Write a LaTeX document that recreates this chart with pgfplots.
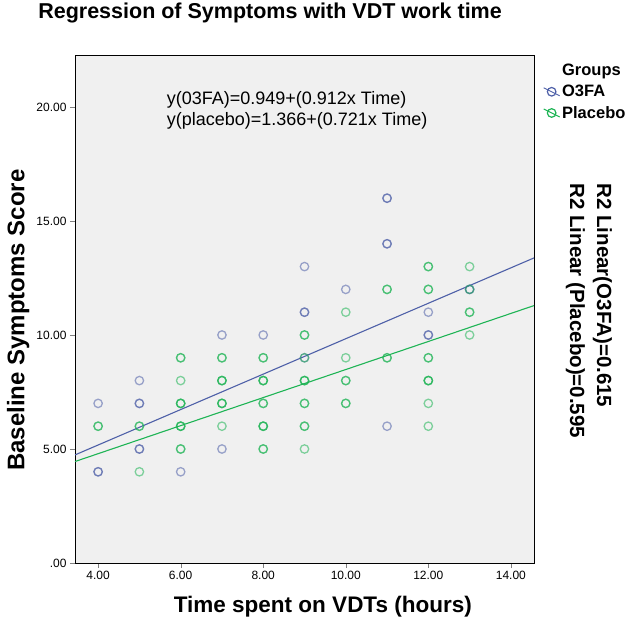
\documentclass[border=0pt]{standalone}
\usepackage{pgfplots}
\pgfplotsset{compat=1.18}
\usepackage{fontspec}
\setmainfont{Liberation Sans}
\definecolor{ofa}{RGB}{78,96,168}
\definecolor{plc}{RGB}{30,180,85}
\definecolor{bgc}{RGB}{240,240,240}

\begin{document}
\begin{tikzpicture}
\useasboundingbox (-75bp,-58bp) rectangle (562bp,563bp);
\begin{axis}[
    at={(0,0)}, anchor=south west,
    scale only axis, width=459bp, height=508bp,
    xmin=3.44, xmax=14.56, ymin=0, ymax=22.28,
    xtick={4,6,...,14}, xticklabels={4.00,6.00,8.00,10.00,12.00,14.00},
    ytick={0,5,10,15,20}, yticklabels={.00,5.00,10.00,15.00,20.00},
    tick align=outside, major tick length=5bp,
    xtick pos=bottom, ytick pos=left,
    ticklabel style={font=\fontsize{12bp}{14bp}\selectfont},
    axis background/.style={fill=bgc},
    axis line style={line width=0.8bp},
    xlabel={Time spent on VDTs (hours)},
    ylabel={Baseline Symptoms Score},
    xlabel style={at={(axis description cs:0.540,-0.085)}, anchor=center,
        font=\fontsize{22.5bp}{26bp}\selectfont\bfseries},
    ylabel style={at={(axis description cs:-0.124,0.478)}, anchor=center,
        font=\fontsize{24bp}{28bp}\selectfont\bfseries},
    title={Regression of Symptoms with VDT work time},
    title style={at={(axis description cs:0.425,1.071)}, anchor=center,
        font=\fontsize{21.5bp}{25bp}\selectfont\bfseries},
    legend style={at={(axis description cs:1.013,0.99)}, anchor=north west,
        draw=none, fill=none, row sep=4bp,
        font=\fontsize{16.5bp}{19bp}\selectfont\bfseries},
    legend cell align=left,
]
\addlegendimage{empty legend}
\addlegendentry{Groups}
\addlegendimage{legend image code/.code={
    \draw[ofa, line width=1bp] (0bp,4bp) -- (16bp,-4bp);
    \draw[ofa, line width=1.2bp] (8bp,0bp) circle (4.3bp);}}
\addlegendentry{O3FA}
\addlegendimage{legend image code/.code={
    \draw[plc, line width=1bp] (0bp,4bp) -- (16bp,-4bp);
    \draw[plc, line width=1.2bp] (8bp,0bp) circle (4.3bp);}}
\addlegendentry{Placebo}

% O3FA group (repeated rows = overlapping cases)
\addplot[only marks, mark=o, mark size=4.2bp, forget plot,
    mark options={ofa, line width=1.3bp, draw opacity=0.55}] coordinates {
    (4,7) (4,4) (4,4)
    (5,8) (5,7) (5,7) (5,5) (5,5)
    (6,4)
    (7,10) (7,5)
    (8,10)
    (9,13) (9,11) (9,11) (9,9)
    (10,12)
    (11,16) (11,16) (11,14) (11,14) (11,6)
    (12,11) (12,10) (12,10)
    (13,12) (13,12)
};
% Placebo group
\addplot[only marks, mark=o, mark size=4.2bp, forget plot,
    mark options={plc, line width=1.3bp, draw opacity=0.55}] coordinates {
    (4,6) (4,6)
    (5,6) (5,6) (5,4)
    (6,9) (6,9) (6,8) (6,7) (6,7) (6,7) (6,6) (6,6) (6,6) (6,5) (6,5)
    (7,9) (7,9) (7,8) (7,8) (7,8) (7,7) (7,7) (7,7) (7,6)
    (8,9) (8,9) (8,8) (8,8) (8,8) (8,7) (8,7) (8,6) (8,6) (8,6) (8,5) (8,5)
    (9,10) (9,10) (9,9) (9,8) (9,8) (9,8) (9,7) (9,7) (9,6) (9,6) (9,5)
    (10,11) (10,9) (10,8) (10,8) (10,7) (10,7)
    (11,12) (11,12) (11,9) (11,9)
    (12,13) (12,13) (12,12) (12,12) (12,9) (12,9) (12,8) (12,8) (12,8) (12,7) (12,6)
    (13,13) (13,12) (13,11) (13,11) (13,10)
};
% fit lines
\addplot[ofa, line width=1.1bp, forget plot] coordinates {(3.44,4.74) (14.56,13.38)};
\addplot[plc, line width=1.1bp, forget plot] coordinates {(3.44,4.45) (14.56,11.29)};

\node[anchor=west, align=left, font=\fontsize{18bp}{21bp}\selectfont]
    at (axis cs:5.58,19.85)
    {y(03FA)=0.949+(0.912x Time)\\y(placebo)=1.366+(0.721x Time)};
\end{axis}
\node[anchor=west, rotate=-90, align=left,
    font=\fontsize{20.5bp}{27bp}\selectfont\bfseries]
    at (514bp,383bp) {R2 Linear(O3FA)=0.615\\R2 Linear (Placebo)=0.595};
\end{tikzpicture}
\end{document}
